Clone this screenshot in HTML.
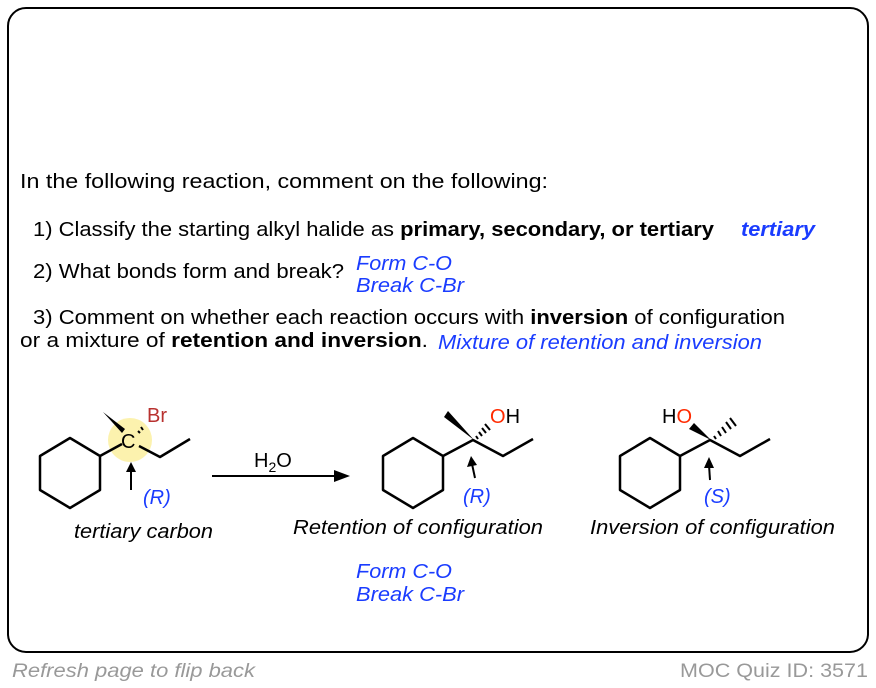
<!DOCTYPE html>
<html><head><meta charset="utf-8"><style>
html,body{margin:0;padding:0;background:#fff;}
svg{display:block;}
text{font-family:"Liberation Sans",Arial,sans-serif;}
</style></head><body>
<svg width="876" height="688" viewBox="0 0 876 688" xmlns="http://www.w3.org/2000/svg">
<rect x="8" y="8" width="860" height="644" rx="18" ry="18" fill="#fff" stroke="#000" stroke-width="2"/>
<g font-size="20" fill="#000">
<text x="20" y="188" textLength="528" lengthAdjust="spacingAndGlyphs">In the following reaction, comment on the following:</text>
<text x="33" y="236" textLength="681" lengthAdjust="spacingAndGlyphs">1) Classify the starting alkyl halide as <tspan font-weight="bold">primary, secondary, or tertiary</tspan></text>
<text x="741" y="236" fill="#1a3cff" font-weight="bold" font-style="italic" textLength="74" lengthAdjust="spacingAndGlyphs">tertiary</text>
<text x="33" y="278" textLength="311" lengthAdjust="spacingAndGlyphs">2) What bonds form and break?</text>
<text x="356" y="270" fill="#1a3cff" font-style="italic" textLength="96" lengthAdjust="spacingAndGlyphs">Form C-O</text>
<text x="356" y="292" fill="#1a3cff" font-style="italic" textLength="108" lengthAdjust="spacingAndGlyphs">Break C-Br</text>
<text x="33" y="324" textLength="752" lengthAdjust="spacingAndGlyphs">3) Comment on whether each reaction occurs with <tspan font-weight="bold">inversion</tspan> of configuration</text>
<text x="20" y="347" textLength="408" lengthAdjust="spacingAndGlyphs">or a mixture of <tspan font-weight="bold">retention and inversion</tspan>.</text>
<text x="438" y="349" fill="#1a3cff" font-style="italic" textLength="324" lengthAdjust="spacingAndGlyphs">Mixture of retention and inversion</text>
<text x="74" y="538" font-style="italic" textLength="139" lengthAdjust="spacingAndGlyphs">tertiary carbon</text>
<text x="293" y="534" font-style="italic" textLength="250" lengthAdjust="spacingAndGlyphs">Retention of configuration</text>
<text x="590" y="534" font-style="italic" textLength="245" lengthAdjust="spacingAndGlyphs">Inversion of configuration</text>
<text x="356" y="578" fill="#1a3cff" font-style="italic" textLength="96" lengthAdjust="spacingAndGlyphs">Form C-O</text>
<text x="356" y="601" fill="#1a3cff" font-style="italic" textLength="108" lengthAdjust="spacingAndGlyphs">Break C-Br</text>
</g>
<text x="12" y="677" font-size="19" fill="#999" font-style="italic" textLength="243" lengthAdjust="spacingAndGlyphs">Refresh page to flip back</text>
<text x="680" y="677" font-size="19" fill="#999" textLength="188" lengthAdjust="spacingAndGlyphs">MOC Quiz ID: 3571</text>

<!-- molecule 1 -->
<circle cx="130" cy="440" r="22" fill="#fbf0a0" opacity="0.85"/>
<g stroke="#000" stroke-width="2.5" fill="none" stroke-linejoin="round">
<polygon points="70,438 100,456 100,490 70,508 40,490 40,456"/>
<line x1="100" y1="456" x2="122" y2="444"/>
<polyline points="139,446 160,457 190,439"/>
</g>
<polygon points="103,412 125,429 122,433" fill="#000"/>
<g stroke="#000" stroke-width="2"><line x1="141" y1="427" x2="143" y2="430"/><line x1="138" y1="431" x2="140" y2="433"/></g>
<text x="121" y="448" font-size="20">C</text>
<text x="147" y="422" font-size="20" fill="#b8312f">Br</text>
<line x1="131" y1="490" x2="131" y2="470" stroke="#000" stroke-width="2"/>
<polygon points="131,462 126,472 136,472" fill="#000"/>
<text x="143" y="504" font-size="20" fill="#1a3cff" font-style="italic">(R)</text>

<!-- arrow -->
<line x1="212" y1="476" x2="338" y2="476" stroke="#000" stroke-width="2"/>
<polygon points="350,476 334,470 334,482" fill="#000"/>
<text x="254" y="467" font-size="20">H<tspan font-size="14" dy="5">2</tspan><tspan dy="-5">O</tspan></text>

<!-- molecule 2 -->
<g stroke="#000" stroke-width="2.5" fill="none" stroke-linejoin="round">
<polygon points="413,438 443,456 443,490 413,508 383,490 383,456"/>
<polyline points="443,456 473,440 503,456 533,439"/>
</g>
<polygon points="448,411 474,440 444,417" fill="#000"/>
<g stroke="#000" stroke-width="2">
<line x1="476" y1="436" x2="478" y2="439"/><line x1="479" y1="432" x2="482" y2="436"/><line x1="482" y1="428" x2="486" y2="433"/><line x1="485" y1="424" x2="490" y2="430"/>
</g>
<text x="490" y="423" font-size="20"><tspan fill="#ff2a00">O</tspan>H</text>
<line x1="475" y1="478" x2="472" y2="464" stroke="#000" stroke-width="2"/>
<polygon points="471,456 467,467 477,465" fill="#000"/>
<text x="463" y="503" font-size="20" fill="#1a3cff" font-style="italic">(R)</text>

<!-- molecule 3 -->
<g stroke="#000" stroke-width="2.5" fill="none" stroke-linejoin="round">
<polygon points="650,438 680,456 680,490 650,508 620,490 620,456"/>
<polyline points="680,456 710,440 740,456 770,439"/>
</g>
<polygon points="694,423 711,440 689,429" fill="#000"/>
<g stroke="#000" stroke-width="2">
<line x1="714" y1="436" x2="716" y2="439"/><line x1="718" y1="431" x2="721" y2="436"/><line x1="722" y1="427" x2="726" y2="433"/><line x1="726" y1="422" x2="731" y2="429"/><line x1="730" y1="418" x2="736" y2="426"/>
</g>
<text x="662" y="423" font-size="20">H<tspan fill="#ff2a00">O</tspan></text>
<line x1="710" y1="480" x2="709" y2="465" stroke="#000" stroke-width="2"/>
<polygon points="709,457 704,468 714,468" fill="#000"/>
<text x="704" y="503" font-size="20" fill="#1a3cff" font-style="italic">(S)</text>
</svg>
</body></html>
